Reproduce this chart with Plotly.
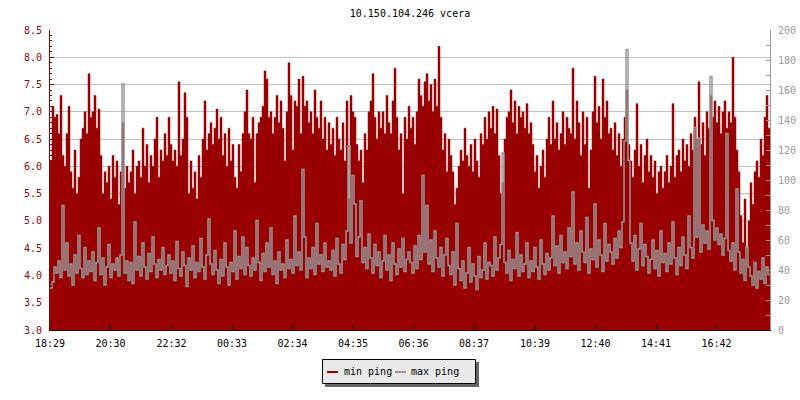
import plotly.graph_objects as go

title_text = "10.150.104.246 vcera"
series_names = ["min ping", "max ping"]
start_label = "18:29"
sample_minutes = 4
tick_labels = ["18:29", "20:30", "22:32", "00:33", "02:34", "04:35",
               "06:36", "08:37", "10:39", "12:40", "14:41", "16:42"]

min_ping = [
    6.1, 7.1, 6.9, 6.95, 6.6, 7.3, 6.2, 6.0, 6.6, 7.1, 5.9, 5.6, 6.3, 5.5, 5.8, 6.5, 6.7, 7.0, 6.6, 7.7,
    6.9, 7.0, 7.3, 6.7, 7.05, 6.2, 5.5, 5.9, 5.7, 6.0, 5.4, 6.2, 5.8, 6.1, 5.3, 5.9, 6.8, 5.6, 6.0, 5.7,
    5.9, 6.3, 5.5, 6.0, 6.1, 5.8, 6.7, 6.0, 6.4, 5.7, 6.2, 6.0, 6.5, 6.9, 5.8, 6.3, 6.1, 6.6, 6.2, 6.9,
    6.4, 6.1, 6.3, 6.0, 7.55, 6.2, 6.5, 7.35, 6.9, 5.5, 6.1, 5.6, 5.9, 5.4, 6.2, 5.8, 6.5, 7.2, 6.3, 6.6,
    6.8, 6.4, 6.7, 7.05, 6.5, 6.9, 6.2, 6.6, 6.0, 6.7, 6.1, 6.4, 5.8, 5.6, 6.4, 5.9, 6.6, 7.0, 7.4, 6.6,
    6.5, 6.9, 5.7, 6.6, 6.8, 6.9, 7.1, 7.75, 7.6, 6.9, 7.0, 6.6, 6.9, 7.3, 6.8, 7.2, 6.7, 6.1, 7.0, 7.9,
    7.3, 6.3, 7.2, 7.1, 7.6, 6.6, 7.65, 7.1, 7.2, 6.8, 7.0, 6.6, 7.4, 6.9, 6.7, 7.2, 6.5, 6.9, 6.3, 6.8,
    6.4, 6.7, 6.2, 6.9, 6.5, 6.3, 6.8, 6.1, 7.2, 5.4, 7.3, 7.0, 6.9, 6.4, 6.1, 6.3, 5.7, 6.6, 6.3, 7.0,
    7.2, 7.7, 6.9, 6.5, 7.0, 6.7, 7.0, 6.6, 7.3, 6.8, 6.6, 7.2, 7.8, 6.9, 6.3, 6.6, 5.5, 6.9, 6.5, 7.1,
    6.7, 6.9, 6.4, 7.0, 7.6, 7.3, 7.1, 7.55, 7.7, 7.2, 7.5, 7.0, 7.6, 7.1, 8.2, 6.9, 6.3, 6.6, 5.9, 6.5,
    6.2, 5.9, 5.3, 5.6, 6.0, 6.3, 6.1, 6.7, 6.2, 6.0, 6.4, 5.9, 6.5, 6.1, 5.8, 6.6, 6.4, 6.9, 6.5, 7.0,
    6.7, 7.1, 6.6, 7.05, 6.2, 5.5, 5.7, 6.5, 6.9, 7.0, 7.4, 6.8, 7.2, 6.6, 7.1, 6.9, 7.0, 6.7, 7.15, 6.6,
    6.8, 6.4, 5.9, 6.2, 5.6, 6.0, 6.3, 5.8, 6.5, 6.9, 6.4, 7.2, 6.5, 6.8, 6.3, 6.6, 7.0, 6.4, 6.9, 6.7,
    6.6, 7.8, 6.5, 7.2, 6.8, 6.2, 7.0, 6.4, 6.9, 5.6, 6.3, 7.0, 7.65, 6.8, 7.1, 6.5, 7.6, 6.9, 7.2, 6.6,
    6.7, 6.3, 6.8, 6.2, 6.6, 6.0, 6.5, 6.9, 7.4, 6.4, 6.1, 5.8, 6.3, 7.15, 6.0, 6.4, 5.7, 6.2, 6.5, 5.9,
    6.2, 5.8, 6.1, 5.5, 5.9, 6.0, 5.6, 5.9, 6.2, 5.7, 6.0, 7.15, 5.8, 6.2, 6.3, 5.9, 6.5, 6.1, 6.4, 6.0,
    6.6, 6.3, 6.9, 6.5, 7.55, 6.4, 6.8, 6.2, 7.0, 6.7, 7.3, 6.9, 7.2, 6.8, 7.1, 6.6, 7.0, 7.2, 6.7, 7.0,
    6.8, 8.0, 6.9, 6.3, 5.9, 5.1, 4.6, 5.4, 4.5, 5.0, 5.7, 5.3, 5.9, 6.1, 5.8, 6.5, 6.2, 6.9, 7.3, 6.7,
]

max_ping = [
    28, 32, 42, 38, 46, 35, 83, 40, 58, 36, 44, 30, 50, 38, 63, 41, 35, 55, 37, 46,
    39, 52, 33, 45, 68, 37, 48, 30, 42, 57, 35, 44, 40, 48, 36, 50, 164, 38, 46, 33,
    45, 31, 72, 40, 49, 36, 58, 42, 34, 51, 39, 62, 44, 35, 47, 40, 55, 37, 43, 50,
    38, 46, 33, 59, 41, 36, 52, 43, 29, 48, 40, 56, 35, 45, 39, 61, 42, 34, 50, 74,
    44, 37, 53, 40, 31, 47, 36, 58, 42, 30, 45, 39, 66, 34, 49, 41, 62, 37, 55, 43,
    36, 48, 40, 73, 45, 33, 51, 39, 58, 42, 68, 37, 46, 31, 52, 40, 44, 35, 60, 41,
    47, 38, 76, 43, 52, 40, 107, 62, 35, 48, 41, 55, 37, 71, 44, 50, 39, 58, 42, 46,
    40, 53, 36, 61, 44, 38, 57, 47, 66, 123, 58, 103, 84, 49, 62, 86, 45, 55, 41, 64,
    48, 38, 57, 43, 52, 35, 46, 63, 40, 50, 33, 58, 44, 37, 54, 42, 61, 39, 47, 52,
    45, 38, 56, 41, 63, 47, 103, 52, 83, 44, 60, 39, 66, 48, 42, 55, 36, 50, 61, 43,
    37, 52, 30, 71, 41, 33, 46, 28, 38, 55, 32, 44, 36, 27, 49, 35, 40, 58, 34, 45,
    43, 36, 62, 40, 48, 57, 118, 45, 38, 53, 33, 47, 41, 65, 36, 50, 39, 44, 58, 35,
    46, 39, 55, 42, 34, 60, 44, 37, 51, 40, 48, 76, 43, 56, 38, 63, 45, 52, 41, 68,
    49, 92, 44, 58, 40, 66, 52, 45, 75, 38, 54, 47, 84, 42, 60, 50, 39, 71, 46, 57,
    52, 44, 61, 48, 66, 55, 72, 126, 187, 113, 58, 46, 63, 40, 54, 71, 43, 57, 49, 38,
    47, 60, 41, 53, 36, 66, 45, 51, 39, 58, 44, 72, 48, 37, 55, 43, 62, 50, 41, 76,
    55, 48, 135, 62, 128, 52, 70, 58, 66, 54, 169, 73, 60, 68, 57, 64, 50, 61, 131, 53,
    46, 58, 40, 94, 52, 38, 47, 33, 55, 42, 36, 30, 45, 28, 39, 34, 48, 31, 42, 37,
]

RED = "#990000"
GRAY = "#999999"
FONT = "DejaVu Sans Mono"
FS = 10
DAY = 1440

# plot-area geometry in pixels (for the hand-drawn legend)
L, R, T, B = 50, 770, 30, 330


def px(x):
    return (x - L) / (R - L)


def py(y):
    return (B - y) / (B - T)


def to_min(label):
    h, m = label.split(":")
    return int(h) * 60 + int(m)


start = to_min(start_label)
tick_pos = [(to_min(t) - start) % DAY for t in tick_labels]

x_min = [i * sample_minutes for i in range(len(min_ping))] + [DAY]
y_min = min_ping + [min_ping[-1]]
x_max = [i * sample_minutes for i in range(len(max_ping))] + [DAY]
y_max = max_ping + [max_ping[-1]]

fig = go.Figure()
fig.add_trace(go.Scatter(x=x_min, y=y_min, name=series_names[0], mode="lines",
                         line=dict(color=RED, width=0.5, shape="hv"),
                         fill="tozeroy", fillcolor=RED, showlegend=False, hoverinfo="skip"))
fig.add_trace(go.Scatter(x=x_max, y=y_max, name=series_names[1], mode="lines",
                         line=dict(color=GRAY, width=1.5, shape="hv"),
                         yaxis="y2", showlegend=False, hoverinfo="skip"))

fig.update_layout(
    width=800, height=400,
    margin=dict(l=L, r=800 - R, t=T, b=400 - B, autoexpand=False),
    paper_bgcolor="white", plot_bgcolor="white",
    font=dict(family=FONT, size=FS, color="black"),
    title=dict(text=title_text, x=0.5, xref="paper", xanchor="center",
               y=1 - 13 / 400, yanchor="middle",
               font=dict(family=FONT, size=FS, color="black")),
    showlegend=False,
    xaxis=dict(range=[0, DAY], tickvals=tick_pos, ticktext=tick_labels, automargin=False,
               showgrid=False, zeroline=False, showline=True, linecolor="black", linewidth=1,
               ticks="inside", ticklen=5, tickcolor="black", ticklabelstandoff=4,
               tickfont=dict(color="black", size=FS)),
    yaxis=dict(range=[3.0, 8.5], dtick=0.5, tick0=3.0, tickformat=".1f", automargin=False,
               showgrid=True, gridcolor="#c0c0c0", gridwidth=1, zeroline=False,
               showline=True, linecolor=RED, linewidth=1,
               ticks="inside", ticklen=4, tickcolor=RED, ticklabelstandoff=5,
               tickfont=dict(color=RED, size=FS),
               minor=dict(dtick=0.1, ticks="inside", ticklen=2, tickcolor=RED, showgrid=False)),
    yaxis2=dict(range=[0, 200], dtick=20, overlaying="y", side="right", automargin=False,
                showgrid=False, zeroline=False, showline=True, linecolor=GRAY, linewidth=1,
                ticks="inside", ticklen=4, tickcolor=GRAY, ticklabelstandoff=5,
                tickfont=dict(color=GRAY, size=FS),
                minor=dict(dtick=10, ticks="inside", ticklen=4, tickcolor=GRAY, showgrid=False)),
)

# hand-drawn legend box (shadow + box + line samples + labels)
fig.add_shape(type="rect", xref="paper", yref="paper",
              x0=px(325), x1=px(479), y0=py(387), y1=py(362),
              fillcolor="#666666", line=dict(width=0))
fig.add_shape(type="rect", xref="paper", yref="paper",
              x0=px(322.5), x1=px(475.5), y0=py(383.5), y1=py(359.5),
              fillcolor="#e9e9e9", line=dict(color="black", width=1))
legend_items = [(series_names[0], RED, 327, 342), (series_names[1], GRAY, 395, 409)]
for name, col, lx, tx in legend_items:
    fig.add_shape(type="line", xref="paper", yref="paper",
                  x0=px(lx), x1=px(lx + 11), y0=py(372), y1=py(372),
                  line=dict(color=col, width=2))
    fig.add_annotation(text=name, xref="paper", yref="paper", x=px(tx), y=py(371.5),
                       xanchor="left", yanchor="middle", showarrow=False,
                       font=dict(family=FONT, size=FS, color="black"))

fig.write_html("out.html", config={"displayModeBar": False},
               post_script="document.body.style.margin='0px';")
